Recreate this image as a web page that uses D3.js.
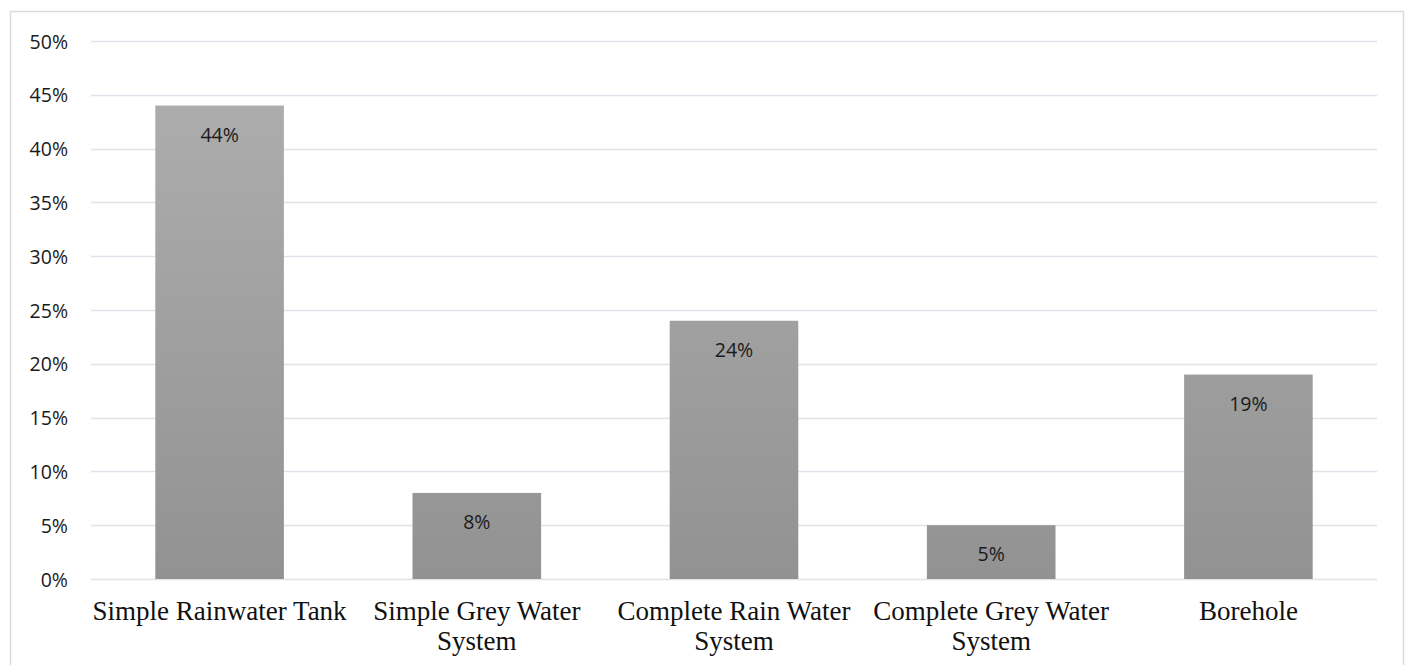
<!DOCTYPE html>
<html><head><meta charset="utf-8">
<script src="https://cdn.jsdelivr.net/npm/d3@7"></script>
<style>body{margin:0;background:#fff;}svg{display:block;}</style>
</head><body>
<script>
const categories = ["Simple Rainwater Tank", "Simple Grey Water System", "Complete Rain Water System", "Complete Grey Water System", "Borehole"];
const values = [0.44, 0.08, 0.24, 0.05, 0.19];
const yTicks = [0, 0.05, 0.10, 0.15, 0.20, 0.25, 0.30, 0.35, 0.40, 0.45, 0.50];
const catLines = [["Simple Rainwater Tank"], ["Simple Grey Water", "System"], ["Complete Rain Water", "System"], ["Complete Grey Water", "System"], ["Borehole"]];

const W = 1410, H = 665;
const svg = d3.select("body").append("svg").attr("width", W).attr("height", H);
const defs = svg.append("defs");
const grad = defs.append("linearGradient").attr("id", "barGrad").attr("gradientUnits", "userSpaceOnUse")
  .attr("x1", 0).attr("x2", 0).attr("y1", 41).attr("y2", 579);
grad.append("stop").attr("offset", "0%").attr("stop-color", "#b0b0b0");
grad.append("stop").attr("offset", "100%").attr("stop-color", "#929292");

svg.append("rect").attr("x", 10.5).attr("y", 11.5).attr("width", 1393).attr("height", 670)
  .attr("fill", "#fff").attr("stroke", "#d9dde3").attr("stroke-width", 1.5);

const x = d3.scaleBand().domain(categories).range([91, 1377]).paddingInner(0.5).paddingOuter(0.25);
const y = d3.scaleLinear().domain([0, 0.5]).range([579, 41]);

const grid = svg.append("g");
grid.selectAll("line").data(yTicks).join("line")
  .attr("x1", 91).attr("x2", 1377)
  .attr("y1", d => Math.round(y(d)) + 0.5).attr("y2", d => Math.round(y(d)) + 0.5)
  .attr("stroke", "#dfe3ea").attr("stroke-width", 1.5);

const yAxis = d3.axisLeft(y).tickValues(yTicks).tickFormat(d3.format(".0%")).tickSize(0).tickPadding(0);
const ya = svg.append("g").attr("transform", "translate(68,0)").call(yAxis);
ya.select(".domain").remove();
ya.selectAll("text").attr("font-family", "'Open Sans', sans-serif").attr("font-size", 19.5).attr("fill", "#1a1a1a").attr("dy", "0.36em");

svg.append("g").selectAll("rect").data(values).join("rect")
  .attr("x", (d, i) => x(categories[i]))
  .attr("y", d => y(d))
  .attr("width", x.bandwidth())
  .attr("height", d => y(0) - y(d))
  .attr("fill", "url(#barGrad)");

svg.append("g").selectAll("text").data(values).join("text")
  .attr("x", (d, i) => x(categories[i]) + x.bandwidth() / 2)
  .attr("y", d => y(d) + 36)
  .attr("text-anchor", "middle")
  .attr("font-family", "'Open Sans', sans-serif").attr("font-size", 19.5).attr("fill", "#1a1a1a")
  .text(d => d3.format(".0%")(d));

const xl = svg.append("g");
catLines.forEach((lines, i) => {
  const cx = x(categories[i]) + x.bandwidth() / 2;
  const t = xl.append("text").attr("text-anchor", "middle")
    .attr("font-family", "'Liberation Serif', 'Times New Roman', serif").attr("font-size", 27).attr("fill", "#111");
  lines.forEach((l, j) => {
    t.append("tspan").attr("x", cx).attr("y", 620 + j * 30).text(l);
  });
});
</script>
</body></html>
